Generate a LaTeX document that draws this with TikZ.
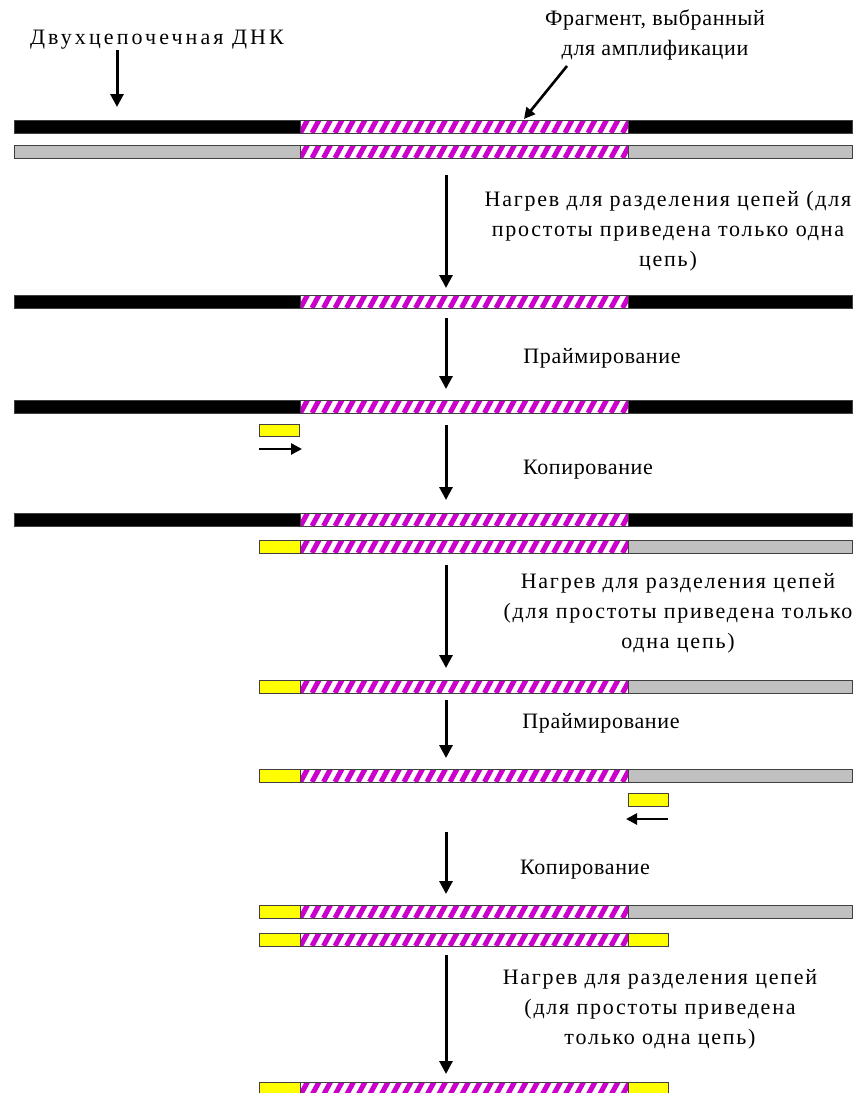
\documentclass[tikz,border=0pt]{standalone}
\usepackage{fontspec}
\setmainfont{Liberation Serif}
\newfontfamily\lsA{Liberation Serif}[LetterSpace=14]
\newfontfamily\lsB{Liberation Serif}[LetterSpace=8]
\newfontfamily\lsC{Liberation Serif}[LetterSpace=3]
\usetikzlibrary{arrows.meta}
\definecolor{hatchmag}{RGB}{204,0,204}
\definecolor{strandgray}{RGB}{192,192,192}
\definecolor{primeryellow}{RGB}{255,255,0}
\tikzset{
  lbl/.style={align=center,font=\fontsize{22}{30}\selectfont,inner sep=0pt},
  bigarrow/.style={line width=3pt,-{Triangle[width=13pt,length=13pt]}},
  smallarrow/.style={line width=2.6pt,-{Triangle[width=11pt,length=11pt]}},
  segline/.style={draw=black!75,line width=1pt}
}
\newcommand{\solidseg}[5]{\filldraw[segline,fill=#5] (#1,#2) rectangle (#3,#4);}
\newcommand{\hatchseg}[2]{%
  \begin{scope}
    \clip (300,#1) rectangle (628,#2);
    \fill[white] (300,#1) rectangle (628,#2);
    \foreach \hx in {289,300.5,...,640} {\draw[hatchmag,line width=5pt] (\hx,#2) -- (\hx+7,#1);}
  \end{scope}
  \draw[segline] (300,#1) rectangle (628,#2);}
\begin{document}
\begin{tikzpicture}[x=1pt,y=-1pt]
\useasboundingbox (0,0) rectangle (854,1093);
% row 1
\solidseg{14}{120}{300}{133}{black}
\hatchseg{120}{133}
\solidseg{628}{120}{852}{133}{black}
% row 2
\solidseg{14}{145}{300}{158}{strandgray}
\hatchseg{145}{158}
\solidseg{628}{145}{852}{158}{strandgray}
% row 3
\solidseg{14}{295}{300}{308}{black}
\hatchseg{295}{308}
\solidseg{628}{295}{852}{308}{black}
% row 4
\solidseg{14}{400}{300}{413}{black}
\hatchseg{400}{413}
\solidseg{628}{400}{852}{413}{black}
\solidseg{259}{424}{299}{436}{primeryellow}
% row 5
\solidseg{14}{513}{300}{526}{black}
\hatchseg{513}{526}
\solidseg{628}{513}{852}{526}{black}
\solidseg{259}{540}{300}{553}{primeryellow}
\hatchseg{540}{553}
\solidseg{628}{540}{852}{553}{strandgray}
% row 6
\solidseg{259}{680}{300}{693}{primeryellow}
\hatchseg{680}{693}
\solidseg{628}{680}{852}{693}{strandgray}
% row 7
\solidseg{259}{769}{300}{782}{primeryellow}
\hatchseg{769}{782}
\solidseg{628}{769}{852}{782}{strandgray}
\solidseg{628}{793}{668}{806}{primeryellow}
% row 8
\solidseg{259}{905}{300}{918}{primeryellow}
\hatchseg{905}{918}
\solidseg{628}{905}{852}{918}{strandgray}
\solidseg{259}{933}{300}{946}{primeryellow}
\hatchseg{933}{946}
\solidseg{628}{933}{668}{946}{primeryellow}
% row 9
\solidseg{259}{1082}{300}{1095}{primeryellow}
\hatchseg{1082}{1095}
\solidseg{628}{1082}{668}{1095}{primeryellow}

% labels
\node[lbl,font=\fontsize{22}{30}\lsA] (dna) at (157,40) {Двухцепочечная ДНК};
\node[lbl,font=\fontsize{22}{30}\lsC] (frag) at (655,35) {Фрагмент, выбранный\\для амплификации};
\node[lbl,font=\fontsize{22}{30}\lsB] (heat1) at (668,231) {Нагрев для разделения цепей (для\\простоты приведена только одна\\цепь)};
\node[lbl,font=\fontsize{22}{30}\lsC] (prime1) at (602,358) {Праймирование};
\node[lbl,font=\fontsize{22}{30}\lsC] (copy1) at (588,470) {Копирование};
\node[lbl,font=\fontsize{22}{30}\lsB] (heat2) at (678,613) {Нагрев для разделения цепей\\(для простоты приведена только\\одна цепь)};
\node[lbl,font=\fontsize{22}{30}\lsC] (prime2) at (601,723) {Праймирование};
\node[lbl,font=\fontsize{22}{30}\lsC] (copy2) at (585,870) {Копирование};
\node[lbl,font=\fontsize{22}{30}\lsB] (heat3) at (660,1009) {Нагрев для разделения цепей\\(для простоты приведена\\только одна цепь)};

% arrow endpoints
\coordinate (a0s) at (117,50);  \coordinate (a0e) at (117,107);
\coordinate (afs) at (567,66);  \coordinate (afe) at (524,119);
\coordinate (a1s) at (446,175); \coordinate (a1e) at (446,288);
\coordinate (a2s) at (446,318); \coordinate (a2e) at (446,389);
\coordinate (a3s) at (446,425); \coordinate (a3e) at (446,500);
\coordinate (a4s) at (446,565); \coordinate (a4e) at (446,668);
\coordinate (a5s) at (446,700); \coordinate (a5e) at (446,758);
\coordinate (a6s) at (446,832); \coordinate (a6e) at (446,894);
\coordinate (a7s) at (446,955); \coordinate (a7e) at (446,1074);
\coordinate (p1s) at (259,449); \coordinate (p1e) at (302,449);
\coordinate (p2s) at (668,819); \coordinate (p2e) at (626,819);

\draw[bigarrow] (a0s) -- (a0e);
\draw[smallarrow] (afs) -- (afe);
\draw[bigarrow] (a1s) -- (a1e);
\draw[bigarrow] (a2s) -- (a2e);
\draw[bigarrow] (a3s) -- (a3e);
\draw[bigarrow] (a4s) -- (a4e);
\draw[bigarrow] (a5s) -- (a5e);
\draw[bigarrow] (a6s) -- (a6e);
\draw[bigarrow] (a7s) -- (a7e);
\draw[smallarrow] (p1s) -- (p1e);
\draw[smallarrow] (p2s) -- (p2e);
\end{tikzpicture}
\end{document}
